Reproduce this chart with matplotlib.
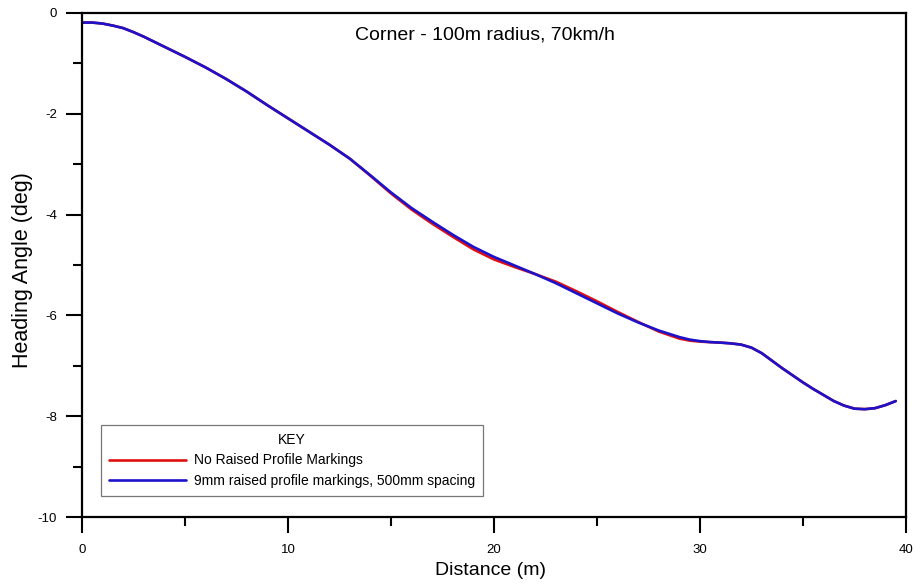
import matplotlib
matplotlib.use("Agg")
import matplotlib.pyplot as plt
from matplotlib.ticker import MultipleLocator

plt.rcParams['font.family'] = ['Liberation Sans', 'DejaVu Sans']
plt.rcParams['axes.unicode_minus'] = False

distance = [0, 0.5, 1, 1.5, 2, 2.5, 3, 3.5, 4, 5, 6, 7, 8, 9, 10, 11, 12, 13, 14,
            15, 16, 17, 18, 19, 20, 21, 22, 23, 24, 25, 26, 27, 28, 29, 29.5, 30,
            30.5, 31, 31.5, 32, 32.5, 33, 33.5, 34, 34.5, 35, 35.5, 36, 36.5, 37,
            37.5, 38, 38.5, 39, 39.5]

heading_no_markings = [-0.19, -0.19, -0.21, -0.25, -0.30, -0.38, -0.47, -0.57, -0.67,
                       -0.87, -1.08, -1.31, -1.56, -1.83, -2.09, -2.35, -2.61, -2.89,
                       -3.23, -3.58, -3.90, -4.18, -4.44, -4.69, -4.89, -5.04, -5.18,
                       -5.33, -5.52, -5.72, -5.93, -6.13, -6.32, -6.46, -6.50, -6.52,
                       -6.53, -6.54, -6.555, -6.58, -6.64, -6.75, -6.90, -7.05, -7.19,
                       -7.33, -7.46, -7.58, -7.70, -7.79, -7.85, -7.86, -7.84, -7.78,
                       -7.70]

heading_9mm_markings = [-0.19, -0.19, -0.21, -0.25, -0.30, -0.38, -0.47, -0.57, -0.67,
                        -0.87, -1.08, -1.31, -1.56, -1.83, -2.09, -2.35, -2.61, -2.89,
                        -3.22, -3.56, -3.87, -4.14, -4.40, -4.64, -4.84, -5.01, -5.18,
                        -5.36, -5.56, -5.76, -5.96, -6.14, -6.30, -6.43, -6.48, -6.51,
                        -6.53, -6.54, -6.555, -6.58, -6.64, -6.75, -6.90, -7.05, -7.19,
                        -7.33, -7.46, -7.58, -7.70, -7.79, -7.85, -7.86, -7.84, -7.78,
                        -7.70]

series_labels = ["No Raised Profile Markings",
                 "9mm raised profile markings, 500mm spacing"]

fig = plt.figure(figsize=(9.17, 5.85), dpi=100)
ax = fig.add_axes([0.0894, 0.1162, 0.8986, 0.8616])

ax.plot(distance, heading_no_markings, color='#e01010', lw=1.9,
        label=series_labels[0], solid_capstyle='round', solid_joinstyle='round')
ax.plot(distance, heading_9mm_markings, color='#1c12cc', lw=1.9,
        label=series_labels[1], solid_capstyle='round', solid_joinstyle='round')

ax.set_xlim(0, 40)
ax.set_ylim(-10, 0)
ax.xaxis.set_major_locator(MultipleLocator(10))
ax.xaxis.set_minor_locator(MultipleLocator(5))
ax.yaxis.set_major_locator(MultipleLocator(2))
ax.yaxis.set_minor_locator(MultipleLocator(1))

for s in ax.spines.values():
    s.set_linewidth(1.6)
ax.tick_params(which='major', direction='out', length=11.5, width=1.5,
               labelsize=9.5, colors='black')
ax.tick_params(which='minor', direction='out', length=6.5, width=1.5)
ax.tick_params(axis='x', which='major', pad=8)
ax.tick_params(axis='y', which='major', pad=6.5)

ax.set_xlabel("Distance (m)", fontsize=14)
ax.set_ylabel("Heading Angle (deg)", fontsize=15.5)
ax.xaxis.set_label_coords(0.496, -0.09)
ax.yaxis.set_label_coords(-0.06, 0.49)

ax.text(19.56, -0.44, "Corner - 100m radius, 70km/h", fontsize=14,
        ha='center', va='center')

leg = ax.legend(loc='upper left', bbox_to_anchor=(0.023, 0.183),
                title="KEY", fontsize=10, title_fontsize=10, frameon=True,
                fancybox=False, edgecolor='#555555', handlelength=5.5,
                handletextpad=0.6, borderpad=0.6, labelspacing=0.45,
                borderaxespad=0)
leg.get_frame().set_linewidth(0.9)
for line in leg.get_lines():
    line.set_linewidth(1.9)

fig.savefig("out.png", dpi=100, facecolor='white')
